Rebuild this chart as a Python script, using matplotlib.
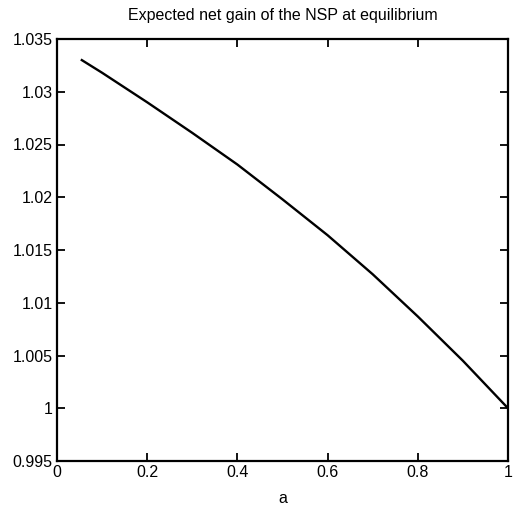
import matplotlib
matplotlib.use("Agg")
import matplotlib.pyplot as plt

a_vals = [0.055, 0.1, 0.2, 0.3, 0.4, 0.5, 0.6, 0.7, 0.8, 0.9, 1.0]
gain_vals = [1.0330, 1.0318, 1.0290, 1.0261, 1.0231, 1.0198, 1.0164, 1.0127, 1.0087, 1.0045, 1.0000]
x_ticks = [0, 0.2, 0.4, 0.6, 0.8, 1]
x_tick_labels = ["0", "0.2", "0.4", "0.6", "0.8", "1"]
y_ticks = [0.995, 1.0, 1.005, 1.01, 1.015, 1.02, 1.025, 1.03, 1.035]
y_tick_labels = ["0.995", "1", "1.005", "1.01", "1.015", "1.02", "1.025", "1.03", "1.035"]

plt.rcParams['font.family'] = ['Liberation Sans', 'DejaVu Sans']

fig = plt.figure(figsize=(5.13, 5.08), dpi=100)
ax = fig.add_axes([57/513, 1 - 461/508, (508 - 57)/513, (461 - 39)/508])
ax.plot(a_vals, gain_vals, color='black', linewidth=1.7)
ax.set_xlim(0, 1)
ax.set_ylim(0.995, 1.035)
ax.set_xticks(x_ticks)
ax.set_xticklabels(x_tick_labels)
ax.set_yticks(y_ticks)
ax.set_yticklabels(y_tick_labels)
ax.tick_params(direction='in', length=6, width=1.3, top=True, right=True, labelsize=11.5, pad=3)
for s in ax.spines.values():
    s.set_linewidth(1.6)
ax.set_title("Expected net gain of the NSP at equilibrium", fontsize=11.5, pad=14)
ax.set_xlabel("a", fontsize=11.5, labelpad=8)
fig.savefig("out.png", dpi=100)
